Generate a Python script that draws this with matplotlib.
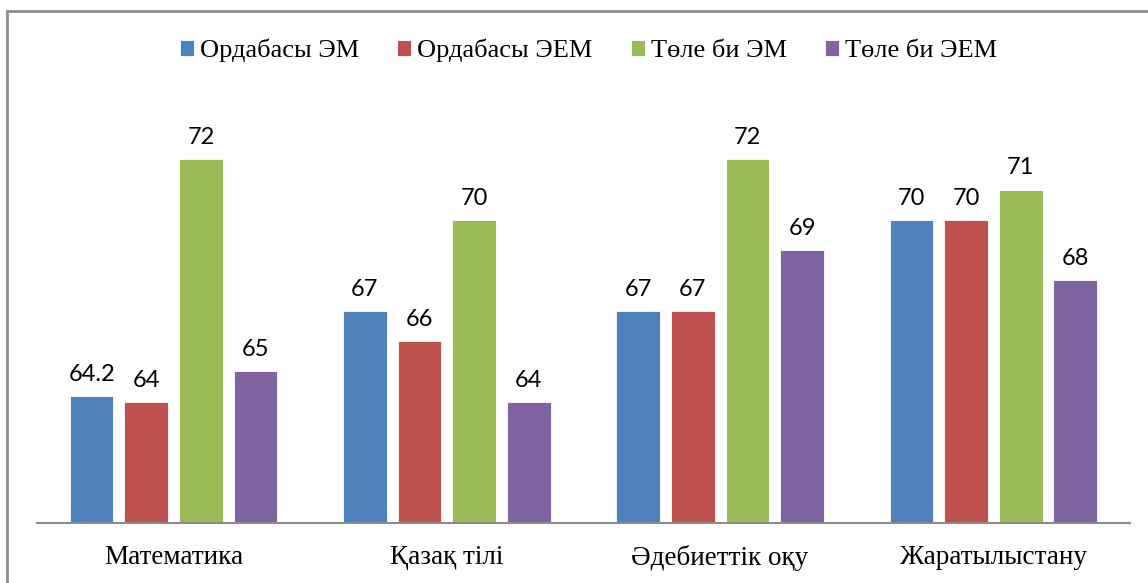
#!/usr/bin/env python3
"""
Grouped bar chart: Ордабасы / Төле би, ЭМ vs ЭЕМ by subject
"""

import numpy as np
import matplotlib.pyplot as plt
from matplotlib.patches import Rectangle

categories = ['Математика', 'Қазақ тілі', 'Әдебиеттік оқу', 'Жаратылыстану']
series_names = ['Ордабасы ЭМ', 'Ордабасы ЭЕМ', 'Төле би ЭМ', 'Төле би ЭЕМ']
ordabasy_em = [64.2, 67, 67, 70]
ordabasy_eem = [64, 66, 67, 70]
tole_bi_em = [72, 70, 72, 71]
tole_bi_eem = [65, 64, 69, 68]
value_labels = [
    ['64.2', '67', '67', '70'],
    ['64', '66', '67', '70'],
    ['72', '70', '72', '71'],
    ['65', '64', '69', '68'],
]
colors = ['#4F81BD', '#C0504D', '#9BBB59', '#8064A2']

fig = plt.figure(figsize=(11.48, 5.83), dpi=100)
ax = fig.add_axes([0.0322, 0.1029, 0.9521, 0.728])

x = np.arange(len(categories))
width = 0.16
step = 0.20
all_series = [ordabasy_em, ordabasy_eem, tole_bi_em, tole_bi_eem]

for i, (vals, name) in enumerate(zip(all_series, series_names)):
    pos = x + (i - 1.5) * step
    bars = ax.bar(pos, vals, width, color=colors[i], label=name,
                  edgecolor='white', linewidth=0.6)
    for b, txt in zip(bars, value_labels[i]):
        ax.annotate(txt, (b.get_x() + b.get_width() / 2, b.get_height()),
                    xytext=(0, 8), textcoords='offset points',
                    ha='center', va='bottom', fontsize=17, family='Lato')

ax.set_ylim(60, 74)
ax.set_xlim(-0.5, 3.5)
ax.set_xticks(x)
ax.set_xticklabels(categories, fontsize=19.5, family='Liberation Serif')
ax.tick_params(axis='x', length=0, pad=16)
ax.set_yticks([])
for side in ['top', 'right', 'left']:
    ax.spines[side].set_visible(False)
ax.spines['bottom'].set_color('#8c8c8c')
ax.spines['bottom'].set_linewidth(1.5)

leg = fig.legend(loc='center', bbox_to_anchor=(0.5126, 0.913), ncol=4,
                 frameon=False, prop={'family': 'Liberation Serif', 'size': 19},
                 handlelength=0.53, handleheight=0.53, handletextpad=0.23,
                 columnspacing=1.44)

# outer chart border (top and left visible, rest runs off the image)
fig.patches.append(Rectangle((7 / 1148, -0.05), 1.05, 1 - 11 / 583 + 0.05,
                             transform=fig.transFigure, fill=False,
                             edgecolor='#8c8c8c', linewidth=2))

fig.savefig('out.png', dpi=100)
